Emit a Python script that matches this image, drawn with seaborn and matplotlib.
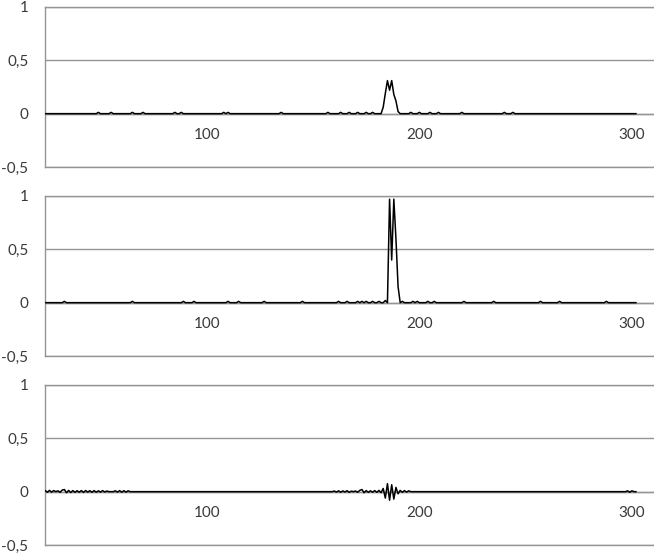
import numpy as np
import pandas as pd
import seaborn as sns
import matplotlib
matplotlib.use("Agg")
import matplotlib.pyplot as plt
from matplotlib.ticker import FuncFormatter

# x range of the series
x_start, x_end = 24, 302

# panel 1: tiny bumps and a double peak
p1_bump_x = [49, 55, 65, 70, 85, 88, 108, 110, 135, 157, 163, 167, 171, 175, 178,
             196, 200, 205, 209, 220, 240, 244]
p1_bump_y = 0.012
p1_peak_x = [182, 183, 184, 185, 186, 187, 188, 189, 190, 191]
p1_peak_y = [0.0, 0.06, 0.19, 0.31, 0.22, 0.31, 0.18, 0.12, 0.02, 0.0]

# panel 2: tiny bumps and a tall double spike
p2_bump_x = [33, 65, 89, 94, 110, 115, 127, 145, 162, 166, 171, 173, 175, 178, 181,
             192, 197, 199, 204, 207, 221, 235, 257, 266, 288]
p2_bump_y = 0.012
p2_peak_x = [184, 185, 186, 187, 188, 189, 190, 191]
p2_peak_y = [0.02, 0.0, 0.97, 0.4, 0.97, 0.6, 0.15, 0.0]

# panel 3: small oscillations
p3_seg_a_x0 = 24
p3_seg_a = [0.01, -0.005, 0.012, -0.004, 0.01, 0.0, 0.008, -0.006, 0.015, 0.02,
            -0.01, 0.012, -0.008, 0.01, -0.006, 0.009, -0.005, 0.01, -0.007, 0.011,
            -0.004, 0.009, -0.006, 0.01, -0.005, 0.008, -0.004, 0.01, -0.003, 0.006]
p3_seg_b_x0 = 57
p3_seg_b = [0.008, -0.004, 0.01, -0.005, 0.009, -0.004, 0.008, 0.0]
p3_seg_c_x0 = 160
p3_seg_c = [0.006, -0.004, 0.008, -0.005, 0.007, -0.003, 0.009, -0.006, 0.005, 0.0,
            0.006, -0.005, 0.012, 0.02, -0.01, 0.01, -0.006, 0.008, -0.005, 0.01,
            -0.006, 0.012, -0.01,
            0.03, -0.06, 0.075, -0.08, 0.065, -0.07, 0.04, -0.02,
            0.012, -0.006, 0.01, -0.004, 0.008, 0.0]
p3_seg_d_x0 = 298
p3_seg_d = [0.008, -0.005, 0.008, 0.0]

y_ticks = [-0.5, 0, 0.5, 1]
x_ticks = [100, 200, 300]

x = np.arange(x_start, x_end + 1)


def series(bumps_x=(), bump_y=0.0, peak_x=(), peak_y=(), segments=()):
    y = np.zeros(len(x))
    for b in bumps_x:
        y[b - x_start] = bump_y
    for px, py in zip(peak_x, peak_y):
        y[px - x_start] = py
    for x0, vals in segments:
        y[x0 - x_start:x0 - x_start + len(vals)] = vals
    return y


panels = [
    series(p1_bump_x, p1_bump_y, p1_peak_x, p1_peak_y),
    series(p2_bump_x, p2_bump_y, p2_peak_x, p2_peak_y),
    series(segments=[(p3_seg_a_x0, p3_seg_a), (p3_seg_b_x0, p3_seg_b),
                     (p3_seg_c_x0, p3_seg_c), (p3_seg_d_x0, p3_seg_d)]),
]

sns.set_style("white")
plt.rcParams['font.family'] = ['Lato', 'DejaVu Sans']

grey = '#949494'
text_col = '#3a3a3a'

fig = plt.figure(figsize=(6.54, 5.55), dpi=100)
bottoms = [1 - 167 / 555, 1 - 356 / 555, 1 - 545 / 555]
comma = FuncFormatter(lambda v, p: ('%g' % v).replace('.', ','))

for y, b in zip(panels, bottoms):
    ax = fig.add_axes([45 / 654, b, 1 - 45 / 654, 160 / 555])
    df = pd.DataFrame({'x': x, 'y': y})
    ax.axhline(0, color=grey, lw=1, zorder=1)
    sns.lineplot(data=df, x='x', y='y', ax=ax, color='black', lw=1.1, zorder=3)
    ax.set_xlim(23.9, 310.4)
    ax.set_ylim(-0.5, 1)
    ax.set_yticks(y_ticks)
    ax.set_xticks(x_ticks)
    ax.yaxis.set_major_formatter(comma)
    ax.grid(axis='y', color=grey, lw=1)
    ax.grid(axis='x', visible=False)
    ax.set_xlabel('')
    ax.set_ylabel('')
    for s in ['left', 'bottom', 'top']:
        ax.spines[s].set_color(grey)
        ax.spines[s].set_linewidth(1)
    ax.spines['right'].set_visible(False)
    ax.tick_params(axis='y', length=0, pad=12, labelsize=11, labelcolor=text_col)
    ax.tick_params(axis='x', length=0, pad=-28, labelsize=11, labelcolor=text_col)

fig.savefig('out.png', dpi=100)
